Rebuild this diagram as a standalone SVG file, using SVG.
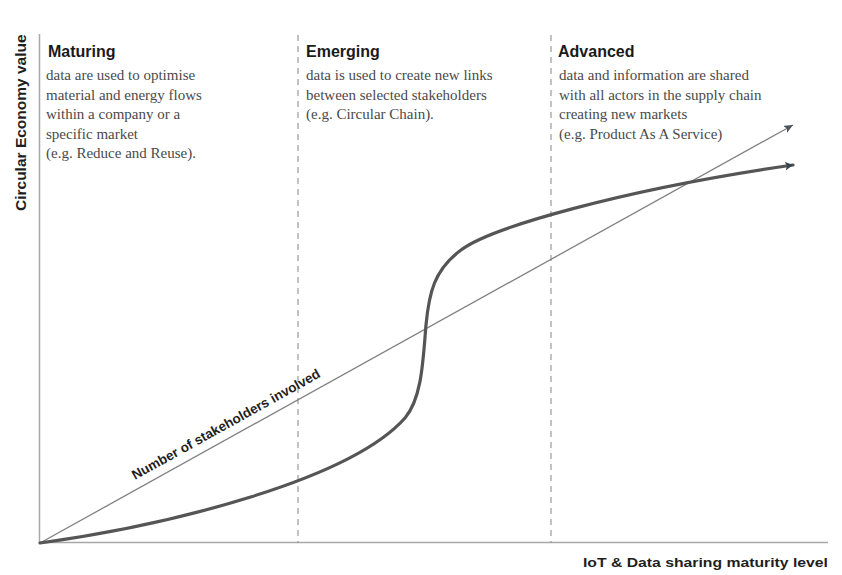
<svg xmlns="http://www.w3.org/2000/svg" width="842" height="575" viewBox="0 0 842 575">
<style>
.head{font-family:"Liberation Sans",Arial,sans-serif;font-weight:bold;font-size:16px;fill:#1a1a1a}
.body{font-family:"Liberation Serif","Times New Roman",serif;font-size:15px;fill:#4a4a4a}
.axis-label{font-family:"Liberation Sans",Arial,sans-serif;font-weight:bold;fill:#1f1f1f}
.axis{stroke:#a8a8a8;stroke-width:1.5;fill:none}
.divider{stroke:#9a9a9a;stroke-width:1.2;stroke-dasharray:6 5;fill:none}
.thin{stroke:#808080;stroke-width:1.3;fill:none}
.thick{stroke:#555;stroke-width:3.2;fill:none;stroke-linecap:round}
</style>
<defs>
<marker id="arrThin" markerUnits="userSpaceOnUse" markerWidth="12" markerHeight="10" refX="9" refY="4" orient="auto">
<path d="M0,0 L9,4 L0,8 L2,4 Z" fill="#4a5560"/>
</marker>
<marker id="arrThick" markerUnits="userSpaceOnUse" markerWidth="12" markerHeight="12" refX="8" refY="4.5" orient="auto">
<path d="M0,0 L8,4.5 L0,9 L2,4.5 Z" fill="#33434f"/>
</marker>
</defs>
<rect width="842" height="575" fill="#ffffff"/>

<g id="axes">
<line class="axis" x1="39.5" y1="34" x2="39.5" y2="543"/>
<line class="axis" x1="39.5" y1="542.5" x2="828" y2="542.5"/>
<text class="axis-label" font-size="15.5" transform="translate(26,211) rotate(-90)">Circular Economy value</text>
<text class="axis-label" font-size="13.5" x="828" y="566.5" text-anchor="end" textLength="245" lengthAdjust="spacingAndGlyphs">IoT &amp; Data sharing maturity level</text>
</g>

<g id="dividers">
<line class="divider" x1="298" y1="35" x2="298" y2="543"/>
<line class="divider" x1="551" y1="35" x2="551" y2="543"/>
</g>

<g id="maturing">
<text class="head" x="48" y="56.5">Maturing</text>
<text class="body" x="46" y="80">data are used to optimise</text>
<text class="body" x="46" y="99.5">material and energy flows</text>
<text class="body" x="46" y="119">within a company or a</text>
<text class="body" x="46" y="138.5">specific market</text>
<text class="body" x="46" y="158">(e.g. Reduce and Reuse).</text>
</g>

<g id="emerging">
<text class="head" x="306" y="56.5">Emerging</text>
<text class="body" x="306" y="80">data is used to create new links</text>
<text class="body" x="306" y="99.5">between selected stakeholders</text>
<text class="body" x="306" y="119">(e.g. Circular Chain).</text>
</g>

<g id="advanced">
<text class="head" x="558" y="56.5">Advanced</text>
<text class="body" x="559" y="80">data and information are shared</text>
<text class="body" x="559" y="99.5">with all actors in the supply chain</text>
<text class="body" x="559" y="119">creating new markets</text>
<text class="body" x="559" y="138.5">(e.g. Product As A Service)</text>
</g>

<g id="connectors">
<line id="stakeholders-line" class="thin" x1="40" y1="543" x2="793" y2="125" marker-end="url(#arrThin)"/>
<path id="value-curve" class="thick" d="M40,543 C170,525 350,480 405,418 C422,398 423,360 426,325 C429,293 434,270 461,250 C490,228 620,190 793,165" marker-end="url(#arrThick)"/>
<text class="axis-label" font-size="13.5" transform="translate(135,480) rotate(-29.03)">Number of stakeholders involved</text>
</g>
</svg>
